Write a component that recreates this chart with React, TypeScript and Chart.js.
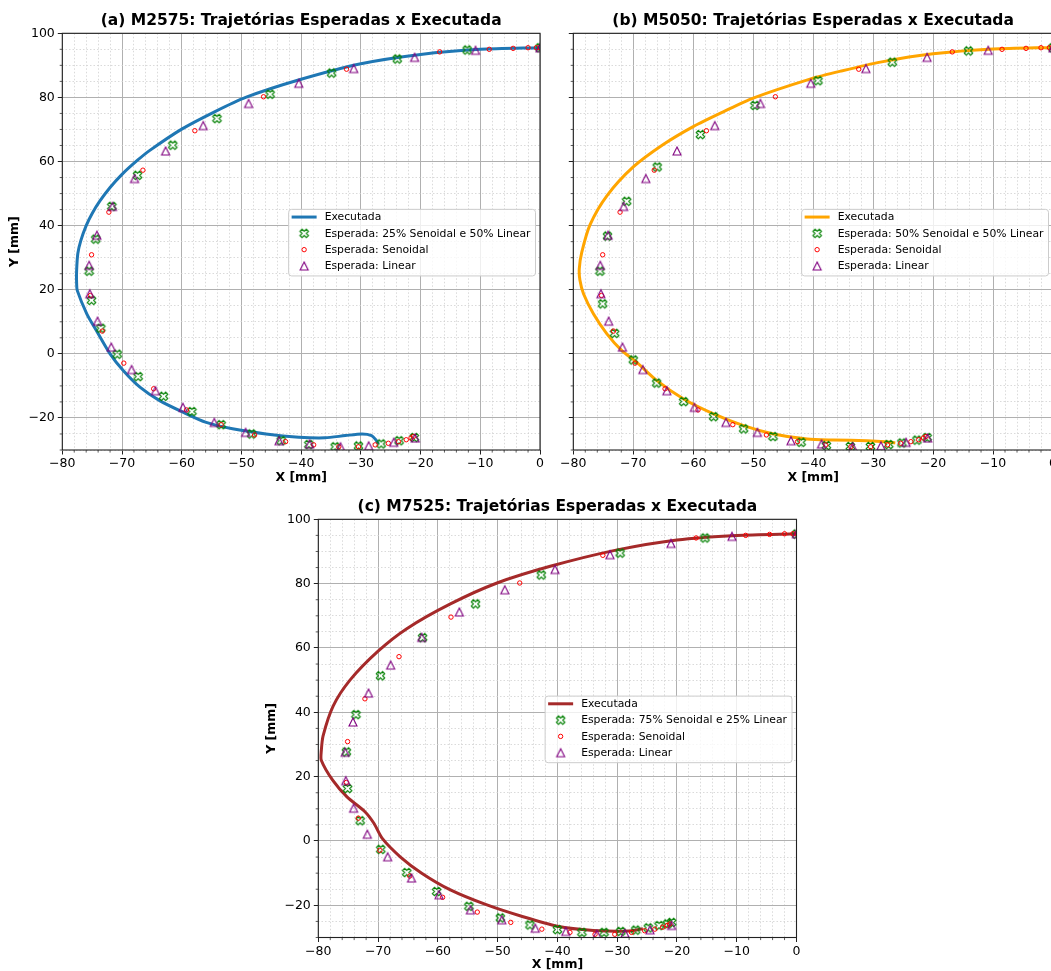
import React, { useEffect, useRef } from 'react';
import { Chart, registerables } from 'chart.js';

Chart.register(...registerables);

const FONT = "'DejaVu Sans', 'Liberation Sans', sans-serif";

// ---------- tick labels ----------
const X_MAJOR_TICKS = [-80, -70, -60, -50, -40, -30, -20, -10, 0];
const Y_MAJOR_TICKS = [-20, 0, 20, 40, 60, 80, 100];

// ---------- executed trajectories ----------
const EXEC_A_X = [0, -10, -20, -30, -40.3, -49.3, -54.5, -60, -65.4, -67.4, -70, -72, -73.7, -75.0, -76.0, -76.9, -77.4, -77.6, -77.6, -77.5, -75.9, -74.3, -72.0, -69.8, -67.0, -63.7, -59.8, -55.9, -51.5, -45.9, -40.4, -36.0, -32.6, -29.8, -28.2, -27.5, -27.05];
const EXEC_A_Y = [95.5, 95.0, 93.4, 90.5, 85.5, 80.0, 75.5, 70.1, 63.4, 60.4, 56.0, 51.9, 47.7, 43.8, 40.0, 35.3, 31.3, 26.0, 22.0, 19.8, 12.5, 7.3, 0.0, -5.2, -10.4, -14.6, -18.2, -21.4, -23.4, -25.0, -26.0, -26.2, -25.5, -25.0, -25.5, -26.8, -28.1];

const EXEC_B_X = [0, -10, -20, -28.8, -35.4, -40.4, -50, -55, -60, -65, -70, -74.4, -77.2, -78.6, -79.0, -78.9, -78.3, -76.65, -74.4, -71.9, -69.5, -66.1, -61.6, -56.6, -51.6, -46.6, -41.0, -36.6, -31.0, -28.0, -26.3];
const EXEC_B_Y = [95.6, 95.1, 93.6, 91.0, 88.2, 85.8, 79.8, 75.5, 70.9, 65.3, 58.3, 49.3, 40.3, 31.6, 26.6, 23.0, 18.75, 12.5, 6.25, 1.0, -2.5, -8.3, -14.1, -18.75, -22.4, -25.0, -26.6, -26.9, -27.1, -27.4, -27.8];

const EXEC_C_X = [0, -10, -20, -30, -41.2, -50.1, -57.9, -65.2, -70.0, -74.7, -77.5, -79.2, -79.5, -79.5, -77.6, -75.2, -72.2, -70.7, -69.3, -66.3, -62.7, -57.9, -51.9, -46.0, -40.0, -34.0, -28.1, -25.7];
const EXEC_C_Y = [95.5, 95.0, 93.6, 90.5, 85.4, 80.2, 73.7, 66.0, 59.0, 50.0, 42.0, 32.7, 28.0, 25.1, 18.9, 13.7, 9.1, 5.5, 0.8, -4.9, -10.0, -15.2, -19.8, -23.4, -26.5, -27.8, -28.0, -27.3];

// ---------- expected trajectories ----------
const LINEAR_X = [0, -10.8, -21, -31.2, -40.4, -48.8, -56.4, -62.7, -67.9, -71.6, -74.2, -75.5, -75.4, -74.1, -71.8, -68.4, -64.4, -59.8, -54.55, -49.3, -43.7, -38.6, -33.4, -28.7, -24.5, -20.9];
const LINEAR_Y = [95.5, 94.7, 92.5, 89.0, 84.4, 78.1, 71.2, 63.3, 54.7, 46.0, 37.0, 27.6, 18.75, 10.2, 2.1, -4.9, -11.5, -16.7, -21.4, -24.5, -27.1, -28.1, -29.0, -28.7, -27.6, -26.25];

const SENOIDAL_X = [0, -0.6, -2.0, -4.5, -8.5, -16.8, -32.4, -46.3, -57.8, -66.5, -72.2, -75.1, -75.3, -73.3, -69.7, -64.7, -59.2, -53.4, -47.8, -42.6, -37.9, -33.7, -30.4, -27.6, -25.4, -23.7, -22.4, -21.6, -21.2];
const SENOIDAL_Y = [95.5, 95.5, 95.5, 95.3, 95.0, 94.2, 88.8, 80.2, 69.6, 57.3, 44.2, 30.9, 18.2, 7.1, -2.9, -10.9, -17.5, -22.1, -25.3, -27.4, -28.4, -29.0, -29.0, -28.4, -27.9, -27.4, -26.8, -26.25, -25.8];

const MIX25_X = [0, -12.2, -23.9, -34.9, -45.2, -54.1, -61.5, -67.4, -71.7, -74.4, -75.5, -75.1, -73.55, -70.8, -67.3, -63.05, -58.3, -53.4, -48.3, -43.35, -38.7, -34.3, -30.4, -26.6, -23.6, -21.05];
const MIX25_Y = [95.5, 94.8, 92.0, 87.6, 81.0, 73.4, 65.1, 55.7, 46.0, 35.8, 25.8, 16.7, 8.0, -0.1, -7.1, -13.25, -18.0, -22.1, -25.0, -27.1, -28.3, -29.0, -28.75, -28.1, -27.1, -26.1];

const MIX50_X = [0, -14.1, -26.8, -39.2, -49.7, -58.8, -66.0, -71.1, -74.3, -75.55, -75.1, -73.1, -70.0, -66.1, -61.6, -56.6, -51.6, -46.7, -42.0, -37.8, -33.8, -30.45, -27.4, -25.2, -22.7, -21.0];
const MIX50_Y = [95.5, 94.5, 91.0, 85.2, 77.5, 68.4, 58.3, 47.6, 36.75, 25.8, 15.6, 6.4, -1.9, -9.1, -14.9, -19.6, -23.4, -25.8, -27.6, -28.6, -28.9, -28.9, -28.3, -27.8, -26.9, -26.1];

const MIX75_X = [0, -15.3, -29.5, -42.7, -53.7, -62.55, -69.6, -73.7, -75.3, -75.1, -73.0, -69.55, -65.2, -60.2, -54.8, -49.55, -44.6, -40.0, -35.9, -32.2, -29.4, -26.9, -24.8, -23.0, -21.6, -20.9];
const MIX75_Y = [95.4, 94.2, 89.5, 82.7, 73.7, 63.2, 51.35, 39.3, 27.7, 16.3, 6.3, -2.6, -9.8, -15.7, -20.3, -23.9, -26.1, -27.55, -28.4, -28.4, -28.1, -27.7, -27.0, -26.3, -25.8, -25.3];

// ---------- helpers ----------
const pts = (xs: number[], ys: number[]) => xs.map((x, i) => ({ x, y: ys[i] }));
const isIn = (arr: number[], v: number) => arr.some((a) => Math.abs(a - v) < 1e-6);
const fmt = (v: number) => (v < 0 ? '\u2212' + Math.abs(v) : String(v));

function makeMarker(kind: 'x' | 'tri', color: string, size: number) {
  const S = Math.ceil(size + 4);
  const c = document.createElement('canvas');
  c.width = S;
  c.height = S;
  const g = c.getContext('2d')!;
  g.strokeStyle = color;
  g.lineWidth = 1.1;
  const cx = S / 2;
  const cy = S / 2;
  g.beginPath();
  if (kind === 'tri') {
    const h = size / 2;
    g.moveTo(cx, cy - h);
    g.lineTo(cx - h, cy + h);
    g.lineTo(cx + h, cy + h);
  } else {
    const v = [[0.25, 0], [0.5, 0.25], [0.25, 0.5], [0, 0.25], [-0.25, 0.5], [-0.5, 0.25], [-0.25, 0], [-0.5, -0.25], [-0.25, -0.5], [0, -0.25], [0.25, -0.5], [0.5, -0.25]];
    v.forEach(([px, py], i) => {
      const X = cx + px * size;
      const Y = cy + py * size;
      if (i === 0) g.moveTo(X, Y);
      else g.lineTo(X, Y);
    });
  }
  g.closePath();
  g.stroke();
  return c;
}

type Panel = {
  left: number; top: number; width: number; height: number;
  yAxisW: number; padTop: number; padRight: number; xAxisH: number;
  xTitlePadBottom: number; yTitlePad: number;
  showYTicks: boolean; showYTitle: boolean;
  title: string; color: string;
  execX: number[]; execY: number[];
  mixLabel: string; mixX: number[]; mixY: number[];
};

const PANELS: Panel[] = [
  {
    left: 0, top: 0, width: 556, height: 490, yAxisW: 62.3, padTop: 33.3, padRight: 16, xAxisH: 40,
    xTitlePadBottom: 4.8, yTitlePad: 7, showYTicks: true, showYTitle: true,
    title: '(a) M2575: Trajetórias Esperadas x Executada', color: '#1f77b4',
    execX: EXEC_A_X, execY: EXEC_A_Y,
    mixLabel: 'Esperada: 25% Senoidal e 50% Linear', mixX: MIX25_X, mixY: MIX25_Y,
  },
  {
    left: 545, top: 0, width: 530, height: 490, yAxisW: 28.3, padTop: 33.3, padRight: 22, xAxisH: 40,
    xTitlePadBottom: 4.8, yTitlePad: 7, showYTicks: false, showYTitle: false,
    title: '(b) M5050: Trajetórias Esperadas x Executada', color: '#ffa500',
    execX: EXEC_B_X, execY: EXEC_B_Y,
    mixLabel: 'Esperada: 50% Senoidal e 50% Linear', mixX: MIX50_X, mixY: MIX50_Y,
  },
  {
    left: 250, top: 485, width: 570, height: 490, yAxisW: 68.3, padTop: 34.3, padRight: 23.5, xAxisH: 37.5,
    xTitlePadBottom: 2.3, yTitlePad: 14, showYTicks: true, showYTitle: true,
    title: '(c) M7525: Trajetórias Esperadas x Executada', color: '#a52a2a',
    execX: EXEC_C_X, execY: EXEC_C_Y,
    mixLabel: 'Esperada: 75% Senoidal e 25% Linear', mixX: MIX75_X, mixY: MIX75_Y,
  },
];

function makeDeco(p: Panel) {
  return {
    id: 'deco',
    afterDatasetsDraw(chart: any) {
      const { ctx, chartArea: a } = chart;
      ctx.save();
      ctx.strokeStyle = '#333';
      ctx.lineWidth = 0.8;
      const xs = chart.scales.x;
      xs.ticks.forEach((t: any) => {
        if (isIn(X_MAJOR_TICKS, t.value)) return;
        const px = xs.getPixelForValue(t.value);
        ctx.beginPath();
        ctx.moveTo(px, a.bottom);
        ctx.lineTo(px, a.bottom + 2.6);
        ctx.stroke();
      });
      const ys = chart.scales.y;
      ys.ticks.forEach((t: any) => {
        if (isIn(Y_MAJOR_TICKS, t.value)) return;
        const py = ys.getPixelForValue(t.value);
        ctx.beginPath();
        ctx.moveTo(a.left, py);
        ctx.lineTo(a.left - 2.6, py);
        ctx.stroke();
      });
      ctx.strokeStyle = '#222';
      ctx.lineWidth = 1.1;
      ctx.strokeRect(a.left, a.top, a.right - a.left, a.bottom - a.top);
      ctx.restore();
    },
    afterDraw(chart: any) {
      const { ctx, chartArea: a } = chart;
      ctx.save();
      ctx.font = `bold 15.5px ${FONT}`;
      ctx.fillStyle = '#000';
      ctx.textAlign = 'center';
      ctx.textBaseline = 'alphabetic';
      ctx.fillText(p.title, (a.left + a.right) / 2, a.top - 8);
      const fs = 10.8;
      ctx.font = `${fs}px ${FONT}`;
      const dss = chart.data.datasets;
      const maxW = Math.max(...dss.map((d: any) => ctx.measureText(d.label).width));
      const padL = 3, handle = 25, gap = 8, padR = 5, rowH = 16.3, padT = 7.7, padB = 10;
      const w = padL + handle + gap + maxW + padR;
      const h = padT + rowH * (dss.length - 1) + padB;
      const right = a.right - 4.5;
      const left = right - w;
      const top = (a.top + a.bottom) / 2 - h / 2 + 1;
      ctx.beginPath();
      if ((ctx as any).roundRect) (ctx as any).roundRect(left, top, w, h, 3);
      else ctx.rect(left, top, w, h);
      ctx.fillStyle = 'rgba(255,255,255,0.8)';
      ctx.fill();
      ctx.strokeStyle = '#cccccc';
      ctx.lineWidth = 1;
      ctx.stroke();
      dss.forEach((d: any, i: number) => {
        const cy = top + padT + i * rowH;
        const hx = left + padL;
        if (d.showLine) {
          ctx.strokeStyle = d.borderColor;
          ctx.lineWidth = 3;
          ctx.beginPath();
          ctx.moveTo(hx, cy);
          ctx.lineTo(hx + handle, cy);
          ctx.stroke();
        } else if (typeof d.pointStyle === 'object') {
          const img = d.pointStyle;
          ctx.drawImage(img, hx + handle / 2 - img.width / 2, cy - img.height / 2);
        } else {
          ctx.strokeStyle = d.borderColor;
          ctx.lineWidth = 1;
          ctx.beginPath();
          ctx.arc(hx + handle / 2, cy, d.pointRadius, 0, Math.PI * 2);
          ctx.stroke();
        }
        ctx.fillStyle = '#000';
        ctx.textAlign = 'left';
        ctx.textBaseline = 'middle';
        ctx.fillText(d.label, hx + handle + gap, cy + 0.5);
      });
      ctx.restore();
    },
  };
}

function gridOpts(major: number[]) {
  return {
    display: true,
    drawOnChartArea: true,
    drawTicks: true,
    tickLength: 4.5,
    tickWidth: 1,
    tickColor: (c: any) => (c.tick && isIn(major, c.tick.value) ? '#222' : 'rgba(0,0,0,0)'),
    color: (c: any) => (c.tick && isIn(major, c.tick.value) ? '#b0b0b0' : '#d0d0d0'),
    lineWidth: (c: any) => (c.tick && isIn(major, c.tick.value) ? 1 : 0.8),
  };
}

function borderOpts(major: number[]) {
  return {
    display: false,
    dash: (c: any) => (c && c.tick && !isIn(major, c.tick.value) ? [1.5, 2] : []),
  };
}

function buildChart(canvas: HTMLCanvasElement, p: Panel) {
  const xImg = makeMarker('x', 'green', 8.5);
  const triImg = makeMarker('tri', 'purple', 8);
  return new Chart(canvas, {
    type: 'scatter',
    data: {
      datasets: [
        {
          label: 'Executada', data: pts(p.execX, p.execY), showLine: true,
          borderColor: p.color, backgroundColor: p.color, borderWidth: 3, pointRadius: 0,
          tension: 0.25, order: 4, clip: 0,
        } as any,
        {
          label: p.mixLabel, data: pts(p.mixX, p.mixY), showLine: false,
          pointStyle: xImg, pointRadius: 4, borderColor: 'green', backgroundColor: 'transparent', order: 3, clip: 0,
        },
        {
          label: 'Esperada: Senoidal', data: pts(SENOIDAL_X, SENOIDAL_Y), showLine: false,
          pointStyle: 'circle', pointRadius: 2.2, borderWidth: 1, borderColor: 'red', backgroundColor: 'transparent', order: 2, clip: 0,
        },
        {
          label: 'Esperada: Linear', data: pts(LINEAR_X, LINEAR_Y), showLine: false,
          pointStyle: triImg, pointRadius: 4, borderColor: 'purple', backgroundColor: 'transparent', order: 1, clip: 0,
        },
      ],
    },
    options: {
      animation: false,
      responsive: false,
      devicePixelRatio: 1,
      events: [],
      layout: { padding: { top: p.padTop, right: p.padRight, left: 0, bottom: 0 } },
      plugins: { legend: { display: false }, tooltip: { enabled: false }, title: { display: false } },
      scales: {
        x: {
          type: 'linear', min: -80, max: 0,
          afterFit: (s: any) => { s.height = p.xAxisH; },
          ticks: {
            stepSize: 2, autoSkip: false, maxRotation: 0, minRotation: 0, padding: 2,
            color: '#000', font: { family: FONT, size: 12.5 },
            callback: (v: any) => (isIn(X_MAJOR_TICKS, Number(v)) ? fmt(Number(v)) : ''),
          },
          grid: gridOpts(X_MAJOR_TICKS),
          border: borderOpts(X_MAJOR_TICKS),
          title: {
            display: true, text: 'X [mm]', color: '#000',
            font: { family: FONT, size: 12.5, weight: 'bold' },
            padding: { top: 0, bottom: p.xTitlePadBottom },
          },
        },
        y: {
          type: 'linear', min: -30, max: 100,
          afterFit: (s: any) => { s.width = p.yAxisW; },
          ticks: {
            display: p.showYTicks, stepSize: 5, autoSkip: false, padding: 3,
            color: '#000', font: { family: FONT, size: 12.5 },
            callback: (v: any) => (isIn(Y_MAJOR_TICKS, Number(v)) ? fmt(Number(v)) : ''),
          },
          grid: gridOpts(Y_MAJOR_TICKS),
          border: borderOpts(Y_MAJOR_TICKS),
          title: {
            display: p.showYTitle, text: 'Y [mm]', color: '#000',
            font: { family: FONT, size: 12.5, weight: 'bold' },
            padding: { top: p.yTitlePad, bottom: 0 },
          },
        },
      },
    } as any,
    plugins: [makeDeco(p)],
  });
}

function PanelChart({ p }: { p: Panel }) {
  const ref = useRef<HTMLCanvasElement>(null);
  useEffect(() => {
    if (!ref.current) return;
    const ch = buildChart(ref.current, p);
    return () => ch.destroy();
  }, [p]);
  return (
    <canvas
      ref={ref}
      width={p.width}
      height={p.height}
      style={{ position: 'absolute', left: p.left, top: p.top, width: p.width, height: p.height }}
    />
  );
}

export default function App() {
  return (
    <div style={{ position: 'absolute', left: 0, top: 0, width: 1051, height: 971, overflow: 'hidden', background: '#fff' }}>
      {PANELS.map((p, i) => (
        <PanelChart key={i} p={p} />
      ))}
    </div>
  );
}
